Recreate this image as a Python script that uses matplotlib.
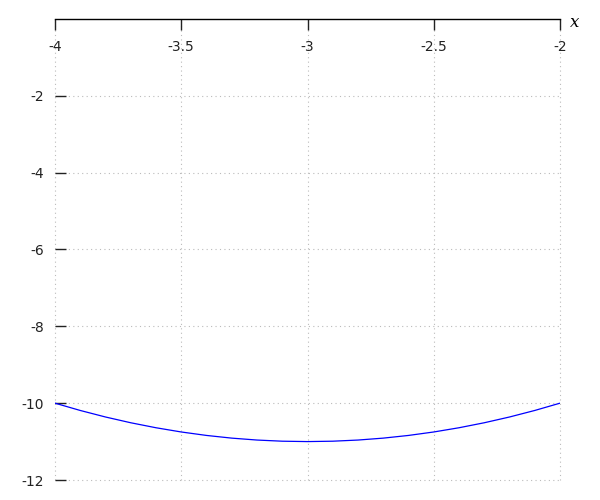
import matplotlib.pyplot as plt

x_vals = [-4.0, -3.9, -3.8, -3.7, -3.6, -3.5, -3.4, -3.3, -3.2, -3.1, -3.0,
          -2.9, -2.8, -2.7, -2.6, -2.5, -2.4, -2.3, -2.2, -2.1, -2.0]
y_vals = [-10.0, -10.19, -10.36, -10.51, -10.64, -10.75, -10.84, -10.91, -10.96, -10.99, -11.0,
          -10.99, -10.96, -10.91, -10.84, -10.75, -10.64, -10.51, -10.36, -10.19, -10.0]
x_ticks = [-4, -3.5, -3, -2.5, -2]
x_tick_labels = ['-4', '-3.5', '-3', '-2.5', '-2']
y_ticks = [-12, -10, -8, -6, -4, -2]

fig = plt.figure(figsize=(6, 5), dpi=100)
ax = fig.add_axes([55 / 600, 1 - 480 / 500, 505 / 600, 461 / 500])

ax.plot(x_vals, y_vals, color='blue', linewidth=0.9)

ax.set_xlim(-4, -2)
ax.set_ylim(-12, 0)

ax.spines['left'].set_visible(False)
ax.spines['right'].set_visible(False)
ax.spines['bottom'].set_visible(False)
ax.spines['top'].set_color('black')
ax.spines['top'].set_linewidth(1)

ax.set_xticks(x_ticks)
ax.set_xticklabels(x_tick_labels)
ax.xaxis.set_ticks_position('top')
ax.tick_params(axis='x', direction='in', length=8, width=1, top=True, bottom=False,
               labeltop=True, labelbottom=False, pad=-15, labelsize=10, colors='#222222')
for lbl in ax.get_xticklabels():
    lbl.set_verticalalignment('top')

ax.set_yticks(y_ticks)
ax.set_yticklabels([str(v) for v in y_ticks])
ax.tick_params(axis='y', direction='in', length=8, width=1, left=True, right=False,
               pad=8, labelsize=10, colors='#222222')

ax.grid(True, color='#bbbbbb', linestyle=(0, (1, 3)), linewidth=0.8)
for gl in ax.get_xgridlines() + ax.get_ygridlines():
    gl.set_clip_on(False)

ax.text(1.02, 0.993, 'x', transform=ax.transAxes, fontsize=12, style='italic',
        family='DejaVu Serif', ha='left', va='center')

fig.savefig('out.png', dpi=100)
